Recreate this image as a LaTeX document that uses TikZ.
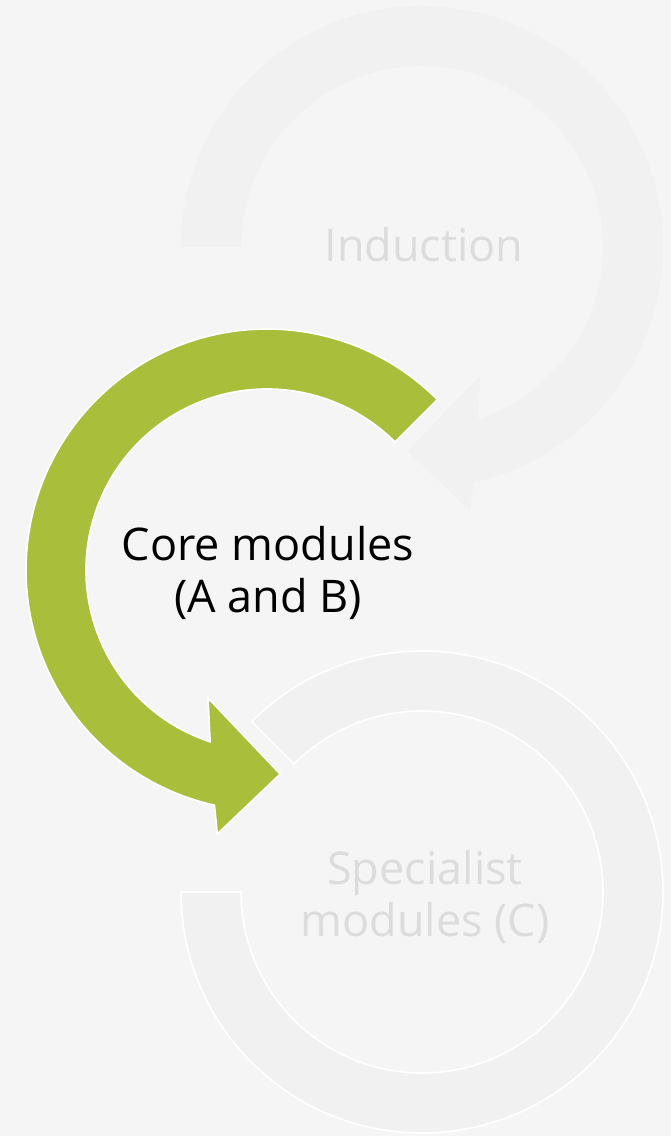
\documentclass[tikz,border=0pt]{standalone}
\usepackage{fontspec}
\setmainfont{Open Sans}
\usepackage{tikz}
\usetikzlibrary{calc}
\definecolor{fond}{HTML}{F5F5F5}
\definecolor{pale}{HTML}{F1F1F1}
\definecolor{vert}{HTML}{A9BE3B}
\definecolor{gristxt}{HTML}{DCDCDC}
\tikzset{step label/.style={
    align=center,
    font=\fontsize{45}{52}\selectfont,
    inner sep=0}}
\tikzset{ring/.style={
    fill=pale,
    draw=white,
    line width=1.6pt,
    line join=miter}}

\begin{document}
\begin{tikzpicture}[x=1pt, y=1pt]
  \fill[fond] (0,0) rectangle (671,1136);
  \useasboundingbox (0,0) rectangle (671,1136);

  \coordinate (ind) at (422,889);
\coordinate (core) at (267,566);
\coordinate (spec) at (422,244);

% induction, clockwise, no outline
\begin{scope}[shift={(ind)}]
  \fill[pale] (180:241) arc[start angle=180, end angle=-77.7, radius=241]
    -- (-79.65:268.5) -- (-94:204.5) -- (-65.6:141) -- (-72:181)
    arc[start angle=-72, end angle=180, radius=181] -- cycle;
\end{scope}

% specialist modules, plain ring
\begin{scope}[shift={(spec)}]
  \draw[ring] (180:241) arc[start angle=180, end angle=495, radius=241]
    -- (135:181) arc[start angle=135, end angle=-180, radius=181] -- cycle;
\end{scope}

% core modules, counter clockwise
\begin{scope}[shift={(core)}]
  \draw[ring, fill=vert] (45:241) arc[start angle=45, end angle=257.4, radius=241]
    -- (259.35:268.5) -- (273.7:204.5) -- (245.3:141) -- (251.7:181)
    arc[start angle=251.7, end angle=45, radius=181] -- cycle;
\end{scope}

  \node[step label, text=gristxt] (indtxt) at ($(ind)+(2,2)$) {Induction};
  \node[step label] (coretxt) at ($(core)+(1,-3)$) {Core modules\\(A and B)};
  \node[step label, text=gristxt] (spectxt) at ($(spec)+(3,-5)$) {Specialist\\modules (C)};
\end{tikzpicture}
\end{document}
